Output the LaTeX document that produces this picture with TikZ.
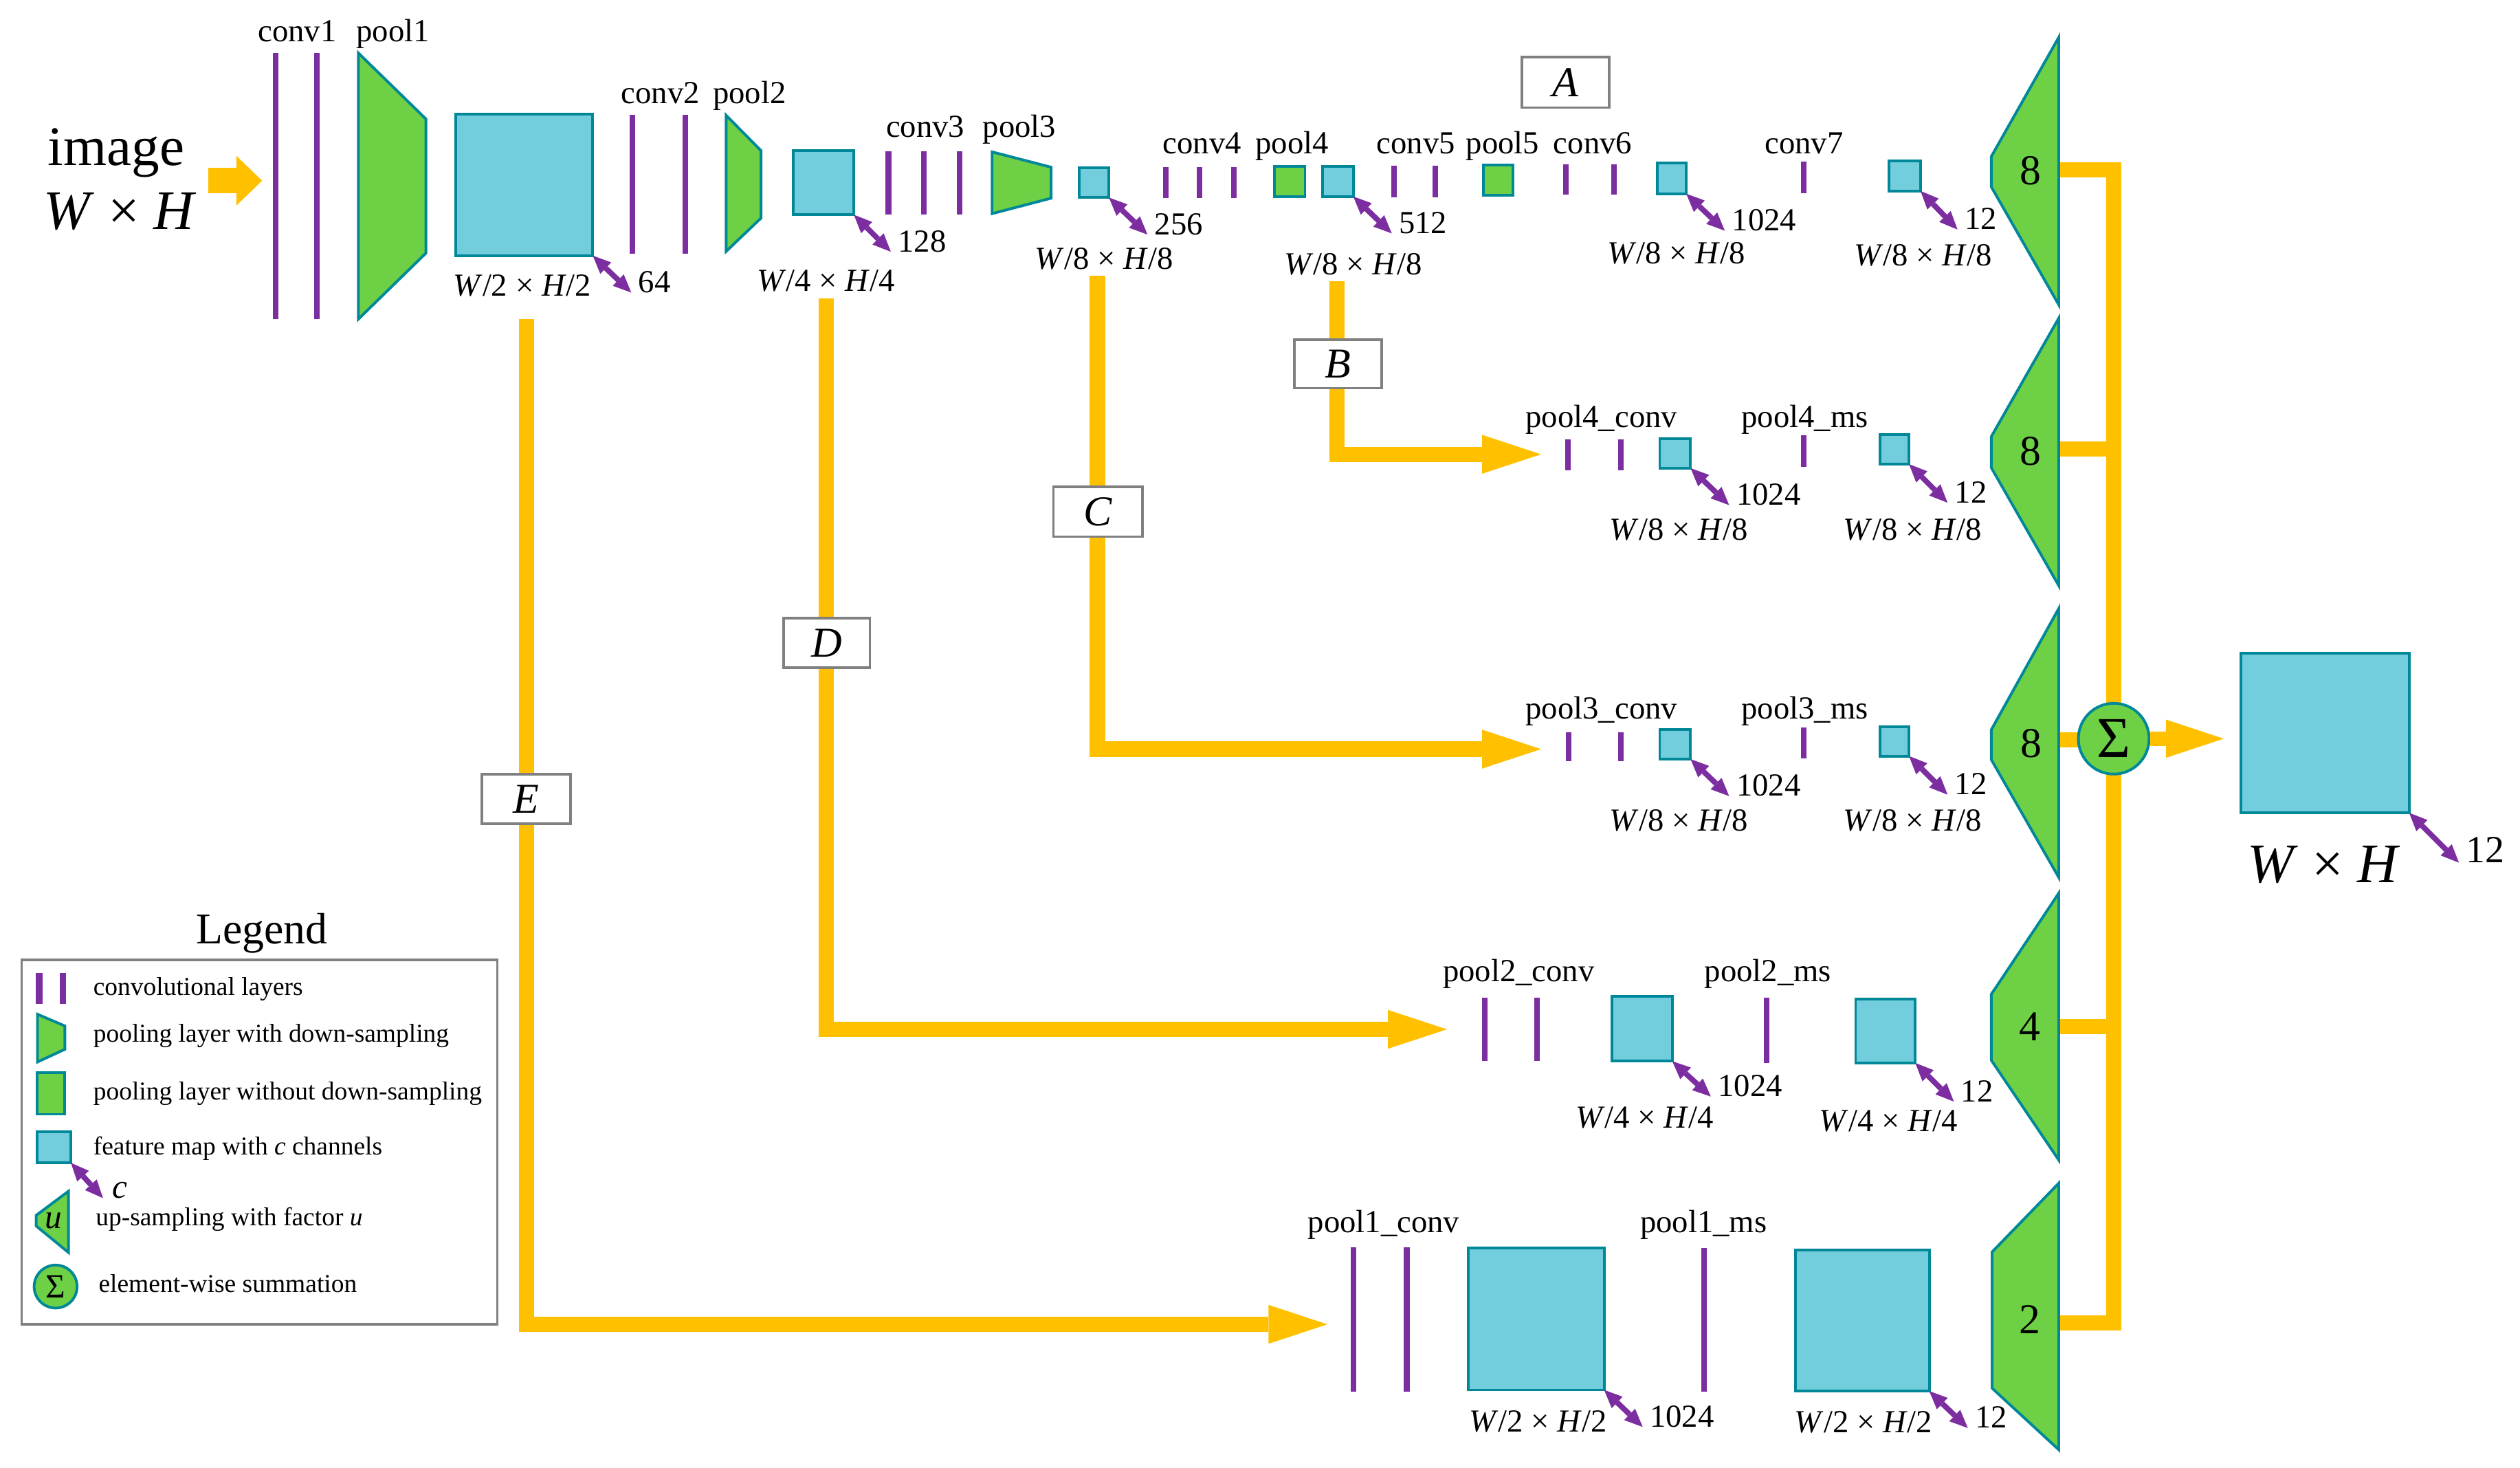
\documentclass[tikz,border=0pt]{standalone}
\usepackage{fontspec}
\setmainfont{Liberation Serif}
\usetikzlibrary{arrows.meta}
\definecolor{cpurple}{RGB}{124,45,160}
\definecolor{cteal}{RGB}{0,136,153}
\definecolor{cgreen}{RGB}{110,208,68}
\definecolor{cblue}{RGB}{114,205,221}
\definecolor{corange}{RGB}{255,192,0}
\definecolor{cgray}{RGB}{128,128,128}
\newcommand{\myfs}[1]{\fontsize{#1pt}{#1pt}\selectfont}
\newcommand{\FMbox}[6][fmbox]{\node[#1, minimum width={(#4-#2)*0.71132pt}, minimum height={(#5-#3)*0.71132pt}] (#6) at ({(#2+#4)/2},{(#3+#5)/2}) {};}
\tikzset{
  convl/.style={draw=cpurple, line width=2.5pt},
  poolshape/.style={fill=cgreen, draw=cteal, line width=1.2pt},
  fmbox/.style={rectangle, fill=cblue, draw=cteal, line width=1.2pt, inner sep=0pt, outer sep=0pt},
  gbox/.style={rectangle, fill=cgreen, draw=cteal, line width=1.2pt, inner sep=0pt, outer sep=0pt},
  lbox/.style={rectangle, fill=white, draw=cgray, line width=1.1pt, inner sep=0pt, outer sep=0pt},
  legbox/.style={rectangle, draw=cgray, line width=1.2pt, inner sep=0pt, outer sep=0pt},
  lab/.style={inner sep=0pt, anchor=base, font=\myfs{14.2}},
  num/.style={inner sep=0pt, anchor=base west, font=\myfs{14.2}, xshift=2pt},
  ltxt/.style={inner sep=0pt, anchor=base west, font=\myfs{11.4}},
  upn/.style={inner sep=0pt, font=\myfs{18.8}},
  letter/.style={inner sep=0pt, font=\myfs{18.8}\itshape},
  dbl/.style={draw=cpurple, line width=2.4pt, {Triangle[length=8pt,width=7pt,line width=0pt]}-{Triangle[length=8pt,width=7pt,line width=0pt]}},
  oline/.style={draw=corange, line width=6.76pt},
  oarrow/.style={oline, -{Triangle[length=26.1pt,width=17.2pt,line width=0pt]}},
}
\begin{document}
\begin{tikzpicture}[x=0.025cm, y=-0.025cm]
\useasboundingbox (0,0) rectangle (1568,913);

% ---------- orange connectors ----------
\coordinate (in0) at (129.5,112.4);
\coordinate (in1) at (163.1,112.4);
\draw[draw=corange, line width=11.17pt, -{Triangle[length=11.4pt,width=22pt,line width=0pt]}] (in0) -- (in1);

\coordinate (eS) at (327.5,198.5); \coordinate (eT) at (826,823.8);
\coordinate (dS) at (514.2,185.5); \coordinate (dT) at (900.3,640.3);
\coordinate (cS) at (682.8,171.5); \coordinate (cT) at (958.9,466);
\coordinate (bS) at (832,175);     \coordinate (bT) at (958.9,282.6);
\draw[oarrow] (eS) |- (eT);
\draw[oarrow] (dS) |- (dT);
\draw[oarrow] (cS) |- (cT);
\draw[oarrow] (bS) |- (bT);

\coordinate (u1e) at (1282,105.8);
\coordinate (u2e) at (1282,279.2);
\coordinate (u3e) at (1282,460.3);
\coordinate (u4e) at (1282,638.6);
\coordinate (u5e) at (1282,822.8);
\coordinate (busB) at (1315.3,822.8);
\draw[oline] (u1e) -| (busB) -- (u5e);
\draw[oline] (u2e) -- (u2e -| busB);
\draw[oline] (u4e) -- (u4e -| busB);
\draw[oline] (u3e) -- (u3e -| busB);

% ---------- branch boxes ----------
\node[lbox, minimum width=38.6pt, minimum height=22.3pt] (A) at (974.15,51.3) {};
\node[letter] (At) at (A.center) {A};
\node[lbox, minimum width=38.6pt, minimum height=21.4pt] (B) at (832.5,226.35) {};
\node[letter] (Bt) at (B.center) {B};
\node[lbox, minimum width=39.3pt, minimum height=22.1pt] (C) at (683.1,318.35) {};
\node[letter] (Ct) at (C.center) {C};
\node[lbox, minimum width=38.2pt, minimum height=21.9pt] (D) at (514.35,400) {};
\node[letter] (Dt) at (D.center) {D};
\node[lbox, minimum width=39.3pt, minimum height=21.8pt] (E) at (327.35,497) {};
\node[letter] (Et) at (E.center) {E};

% ---------- input ----------
\node[lab, font=\myfs{24.7}] (img) at (72.3,102.7) {image};
\node[lab, font=\myfs{24.7}] (imgs) at (74.8,142.6) {\textit{W} × \textit{H}};

% ---------- main row ----------
\draw[convl] (171.6,33) -- (171.6,198.5);
\draw[convl] (197.2,33) -- (197.2,198.5);
\draw[poolshape] (223,33) -- (265,74) -- (265,157.5) -- (223,198.5) -- cycle;
\FMbox{283.6}{71}{368.8}{159}{fm1}
\draw[convl] (393.6,71.3) -- (393.6,157.8);
\draw[convl] (426.4,71.3) -- (426.4,157.8);
\draw[poolshape] (451.8,71.7) -- (473.5,93.7) -- (473.5,135.7) -- (451.8,156.4) -- cycle;
\FMbox{493.6}{93.7}{531.3}{133.6}{fm2}
\draw[convl] (552.8,94) -- (552.8,133.4);
\draw[convl] (574.8,94) -- (574.8,133.4);
\draw[convl] (597,94) -- (597,133.4);
\draw[poolshape] (617.3,94.5) -- (654,104) -- (654,123.3) -- (617.3,132.9) -- cycle;
\FMbox{671.5}{104.4}{690}{122.9}{fm3}
\draw[convl] (725.4,104) -- (725.4,123.3);
\draw[convl] (746.4,104) -- (746.4,123.3);
\draw[convl] (767.7,104) -- (767.7,123.3);
\FMbox[gbox]{793}{103.5}{812}{122.2}{p4}
\FMbox{823}{103.5}{842}{122.2}{fm4}
\draw[convl] (867.4,103) -- (867.4,122.6);
\draw[convl] (893,103) -- (893,122.6);
\FMbox[gbox]{923}{102.6}{941.4}{121.5}{p5}
\draw[convl] (974.4,102.4) -- (974.4,121);
\draw[convl] (1004.2,102.4) -- (1004.2,121);
\FMbox{1031.3}{101.2}{1049.2}{120.5}{fm6}
\draw[convl] (1122.4,100.5) -- (1122.4,120.2);
\FMbox{1175.4}{100}{1195}{118.8}{fm7}

\node[lab] (lc1) at (185,25.7) {conv1};
\node[lab] (lp1) at (244.5,25.7) {pool1};
\node[lab] (lc2) at (411,64.2) {conv2};
\node[lab] (lp2) at (466.4,64.2) {pool2};
\node[lab] (lc3) at (575.8,85.5) {conv3};
\node[lab] (lp3) at (634.3,85.5) {pool3};
\node[lab] (lc4) at (748,95.8) {conv4};
\node[lab] (lp4) at (804,95.8) {pool4};
\node[lab] (lc5) at (881,95.8) {conv5};
\node[lab] (lp5) at (935,95.8) {pool5};
\node[lab] (lc6) at (991,95.8) {conv6};
\node[lab] (lc7) at (1122.5,95.8) {conv7};

\draw[dbl] (fm1.south east) -- ++(24,23) node[num] (n1) {64};
\draw[dbl] (fm2.south east) -- ++(23,23) node[num] (n2) {128};
\draw[dbl] (fm3.south east) -- ++(24,23) node[num] (n3) {256};
\draw[dbl] (fm4.south east) -- ++(24,23) node[num] (n4) {512};
\draw[dbl] (fm6.south east) -- ++(24,23) node[num] (n6) {1024};
\draw[dbl] (fm7.south east) -- ++(23,24) node[num] (n7) {12};

\node[lab] (s1) at (325,184) {\textit{W}/2 × \textit{H}/2};
\node[lab] (s2) at (514,181) {\textit{W}/4 × \textit{H}/4};
\node[lab] (s3) at (687,167.5) {\textit{W}/8 × \textit{H}/8};
\node[lab] (s4) at (842,170.7) {\textit{W}/8 × \textit{H}/8};
\node[lab] (s6) at (1043,164) {\textit{W}/8 × \textit{H}/8};
\node[lab] (s7) at (1196.6,165.4) {\textit{W}/8 × \textit{H}/8};

% ---------- pool4 row ----------
\draw[convl] (975.6,273.4) -- (975.6,292.6);
\draw[convl] (1008.6,273.4) -- (1008.6,292.6);
\FMbox{1032.7}{273}{1051.9}{291.2}{fm4c}
\draw[convl] (1122.4,270.8) -- (1122.4,290.3);
\FMbox{1169.6}{270.4}{1187.8}{288.7}{fm4m}
\node[lab] (l4c) at (996.5,265.8) {pool4\_conv};
\node[lab] (l4m) at (1123,265.8) {pool4\_ms};
\draw[dbl] (fm4c.south east) -- ++(24,23) node[num] (n4c) {1024};
\draw[dbl] (fm4m.south east) -- ++(24,24) node[num] (n4m) {12};
\node[lab] (s4c) at (1044.5,336) {\textit{W}/8 × \textit{H}/8};
\node[lab] (s4m) at (1190,336) {\textit{W}/8 × \textit{H}/8};

% ---------- pool3 row ----------
\draw[convl] (976.2,455.4) -- (976.2,473.5);
\draw[convl] (1008.6,455.4) -- (1008.6,473.5);
\FMbox{1032.7}{453.8}{1051.9}{472.2}{fm3c}
\draw[convl] (1122.4,452.5) -- (1122.4,471.6);
\FMbox{1169.6}{452}{1187.8}{470.3}{fm3m}
\node[lab] (l3c) at (996.5,447.2) {pool3\_conv};
\node[lab] (l3m) at (1123,447.2) {pool3\_ms};
\draw[dbl] (fm3c.south east) -- ++(24,23) node[num] (n3c) {1024};
\draw[dbl] (fm3m.south east) -- ++(24,24) node[num] (n3m) {12};
\node[lab] (s3c) at (1044.5,516.8) {\textit{W}/8 × \textit{H}/8};
\node[lab] (s3m) at (1190,516.8) {\textit{W}/8 × \textit{H}/8};

% ---------- pool2 row ----------
\draw[convl] (924,620.5) -- (924,660.1);
\draw[convl] (956.2,620.5) -- (956.2,660.1);
\FMbox{1003}{619.8}{1040.5}{660.1}{fm2c}
\draw[convl] (1099.2,620.5) -- (1099.2,661.2);
\FMbox{1154.6}{621.6}{1191.7}{661.2}{fm2m}
\node[lab] (l2c) at (945,610.7) {pool2\_conv};
\node[lab] (l2m) at (1100,610.7) {pool2\_ms};
\draw[dbl] (fm2c.south east) -- ++(24,22) node[num] (n2c) {1024};
\draw[dbl] (fm2m.south east) -- ++(24,24) node[num] (n2m) {12};
\node[lab] (s2c) at (1023.3,701.8) {\textit{W}/4 × \textit{H}/4};
\node[lab] (s2m) at (1175,704) {\textit{W}/4 × \textit{H}/4};

% ---------- pool1 row ----------
\draw[convl] (842,775.8) -- (842,865.8);
\draw[convl] (875.3,775.8) -- (875.3,865.8);
\FMbox{913.8}{776.5}{998.1}{864.6}{fm1c}
\draw[convl] (1060.2,776.5) -- (1060.2,865.8);
\FMbox{1117}{777.4}{1200.4}{865.3}{fm1m}
\node[lab] (l1c) at (861,766.7) {pool1\_conv};
\node[lab] (l1m) at (1060,766.7) {pool1\_ms};
\draw[dbl] (fm1c.south east) -- ++(24,23) node[num] (n1c) {1024};
\draw[dbl] (fm1m.south east) -- ++(24,23) node[num] (n1m) {12};
\node[lab] (s1c) at (957,890.8) {\textit{W}/2 × \textit{H}/2};
\node[lab] (s1m) at (1159.5,891) {\textit{W}/2 × \textit{H}/2};

% ---------- up-sampling ----------
\draw[poolshape] (1281,23.2) -- (1281,189.6) -- (1239,116.2) -- (1239,97.4) -- cycle;
\draw[poolshape] (1281,197.9) -- (1281,364.3) -- (1239,290.9) -- (1239,271.6) -- cycle;
\draw[poolshape] (1281,378.5) -- (1281,545.8) -- (1239,472.5) -- (1239,454) -- cycle;
\draw[poolshape] (1281,555.6) -- (1281,721.6) -- (1239,659.5) -- (1239,618.5) -- cycle;
\draw[poolshape] (1281,736) -- (1281,901.8) -- (1239.5,863.5) -- (1239.5,778.8) -- cycle;
\node[upn] (u1) at (1263.3,106) {8};
\node[upn] (u2) at (1263.5,280.6) {8};
\node[upn] (u3) at (1263.8,462.6) {8};
\node[upn] (u4) at (1263,638.6) {4};
\node[upn] (u5) at (1263,821) {2};

% ---------- summation and output ----------
\node[circle, fill=cgreen, draw=cteal, line width=1.2pt, minimum size=31.3pt, inner sep=0pt, font=\myfs{25.6}] (sig) at (1315.2,459.5) {Σ};
\coordinate (oT) at (1383.7,459.5);
\draw[draw=corange, line width=6.2pt, -{Triangle[length=25.6pt,width=16.9pt,line width=0pt]}] (sig.east) -- (oT);
\FMbox{1394.5}{406.4}{1499}{505.6}{out}
\draw[dbl] (out.south east) -- ++(31,31) node[num, font=\myfs{17}] (nout) {12};
\node[lab, font=\myfs{24.7}] (sout) at (1446,549) {\textit{W} × \textit{H}};

% ---------- legend ----------
\node[lab, font=\myfs{19.4}] (legt) at (163,587) {Legend};
\FMbox[legbox]{13.5}{597.3}{309.4}{823.8}{leg}
\draw[convl, line width=2.8pt] (24.4,605.3) -- (24.4,624.3);
\draw[convl, line width=2.8pt] (39.3,605.3) -- (39.3,624.3);
\node[ltxt] (lt1) at (57.8,619) {convolutional layers};
\draw[poolshape] (23.3,630.9) -- (40.4,638.2) -- (40.4,652.7) -- (23.3,660.6) -- cycle;
\node[ltxt] (lt2) at (57.8,648.3) {pooling layer with down-sampling};
\FMbox[gbox]{23.3}{667.4}{40.4}{693.1}{lgp}
\node[ltxt] (lt3) at (57.8,684) {pooling layer without down-sampling};
\FMbox{23.3}{704}{44.1}{723.3}{lfm}
\node[ltxt] (lt4) at (57.8,718.3) {feature map with \textit{c} channels};
\draw[dbl] (lfm.south east) -- ++(20,22) node[num, font=\myfs{15}\itshape, xshift=1pt] (lc) {c};
\draw[poolshape] (42.6,741) -- (42.6,779.1) -- (22.5,762.6) -- (22.5,756) -- cycle;
\node[inner sep=0pt, font=\myfs{15}\itshape] (lu) at (33.5,759.5) {u};
\node[ltxt] (lt5) at (59.3,762.6) {up-sampling with factor \textit{u}};
\node[circle, fill=cgreen, draw=cteal, line width=1.2pt, minimum size=19pt, inner sep=0pt, font=\myfs{15}] (lsig) at (34.6,800.3) {Σ};
\node[ltxt] (lt6) at (61.1,804) {element-wise summation};
\end{tikzpicture}
\end{document}
